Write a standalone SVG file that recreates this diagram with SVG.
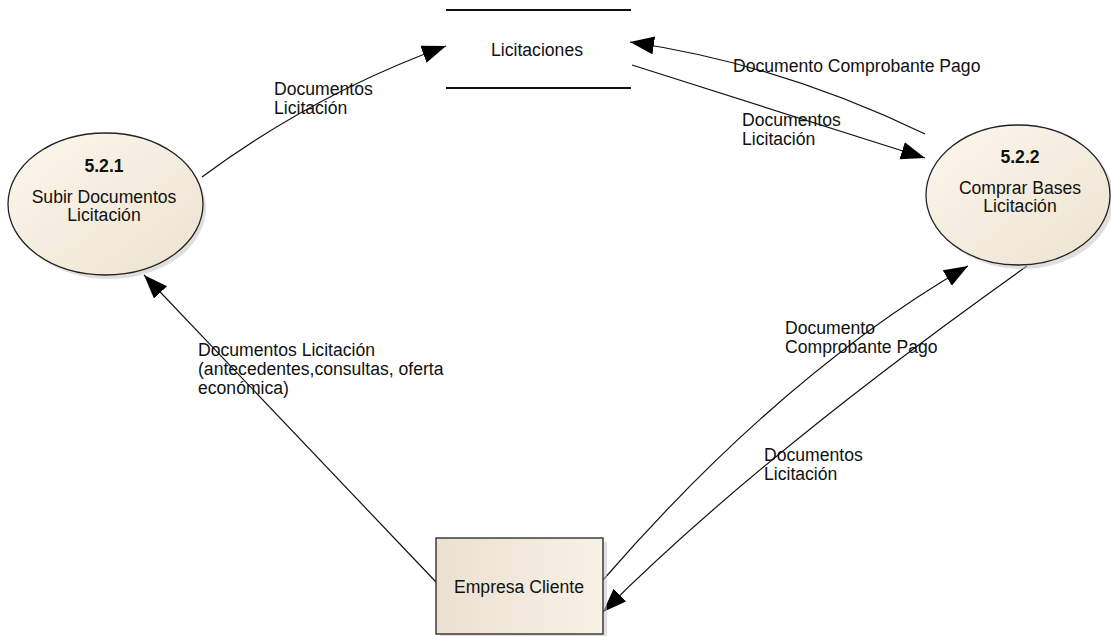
<svg xmlns="http://www.w3.org/2000/svg" width="1111" height="636" viewBox="0 0 1111 636">
<style>
text{font-family:"Liberation Sans",Arial,sans-serif;font-size:17.6px;fill:#111}
.b{font-weight:bold}
.c{text-anchor:middle}
.sh{fill:#c4c4c4;opacity:.55}
.node{stroke:#222;stroke-width:1.3}
.conn{fill:none;stroke:#111;stroke-width:1.2}
</style>
<defs>
<linearGradient id="ge" x1="0" y1="0" x2="1" y2="1">
<stop offset="0" stop-color="#fdf7ec"/>
<stop offset="1" stop-color="#ece2d1"/>
</linearGradient>
<linearGradient id="gr" x1="0" y1="0" x2="1" y2="0">
<stop offset="0" stop-color="#ebe1d1"/>
<stop offset="1" stop-color="#f8f1e6"/>
</linearGradient>
<marker id="ah" markerUnits="userSpaceOnUse" markerWidth="25" markerHeight="19" refX="24" refY="9" orient="auto">
<path d="M0,0 L24,9 L0,18 z" fill="#000"/>
</marker>
</defs>
<g id="connectors">
<path class="conn" d="M202,177 Q314,94 446,46" marker-end="url(#ah)"/>
<path class="conn" d="M925,134 Q780,64 630,42" marker-end="url(#ah)"/>
<path class="conn" d="M632,65 L925,158" marker-end="url(#ah)"/>
<path class="conn" d="M436,582 L144,275" marker-end="url(#ah)"/>
<path class="conn" d="M603,580 Q782,374 968,266" marker-end="url(#ah)"/>
<path class="conn" d="M1027,266 Q758,457 603,612" marker-end="url(#ah)"/>
<text x="274" y="95">Documentos</text>
<text x="274" y="114">Licitación</text>
<text x="733" y="72">Documento Comprobante Pago</text>
<text x="742" y="126">Documentos</text>
<text x="742" y="145">Licitación</text>
<text x="198" y="356">Documentos Licitación</text>
<text x="198" y="375">(antecedentes,consultas, oferta</text>
<text x="198" y="394">económica)</text>
<text x="785" y="334">Documento</text>
<text x="785" y="353">Comprobante Pago</text>
<text x="764" y="461">Documentos</text>
<text x="764" y="480">Licitación</text>
</g>
<g id="store-licitaciones">
<line x1="446" y1="10" x2="631" y2="10" stroke="#111" stroke-width="2"/>
<line x1="446" y1="88" x2="631" y2="88" stroke="#111" stroke-width="2"/>
<text class="c" x="537" y="56">Licitaciones</text>
</g>
<g id="proc-521">
<ellipse class="sh" cx="109" cy="208" rx="97" ry="71"/>
<ellipse class="node" cx="105.5" cy="204" rx="97.5" ry="71" fill="url(#ge)"/>
<text class="c b" x="104" y="172">5.2.1</text>
<text class="c" x="104" y="203">Subir Documentos</text>
<text class="c" x="104" y="221">Licitación</text>
</g>
<g id="proc-522">
<ellipse class="sh" cx="1022" cy="199" rx="92" ry="70"/>
<ellipse class="node" cx="1018" cy="195" rx="92" ry="70" fill="url(#ge)"/>
<text class="c b" x="1020" y="163">5.2.2</text>
<text class="c" x="1020" y="194">Comprar Bases</text>
<text class="c" x="1020" y="212">Licitación</text>
</g>
<g id="ext-empresa">
<rect class="sh" x="440" y="542" width="167" height="96"/>
<rect class="node" x="436" y="538" width="167" height="96" fill="url(#gr)"/>
<text class="c" x="519" y="593">Empresa Cliente</text>
</g>
</svg>
